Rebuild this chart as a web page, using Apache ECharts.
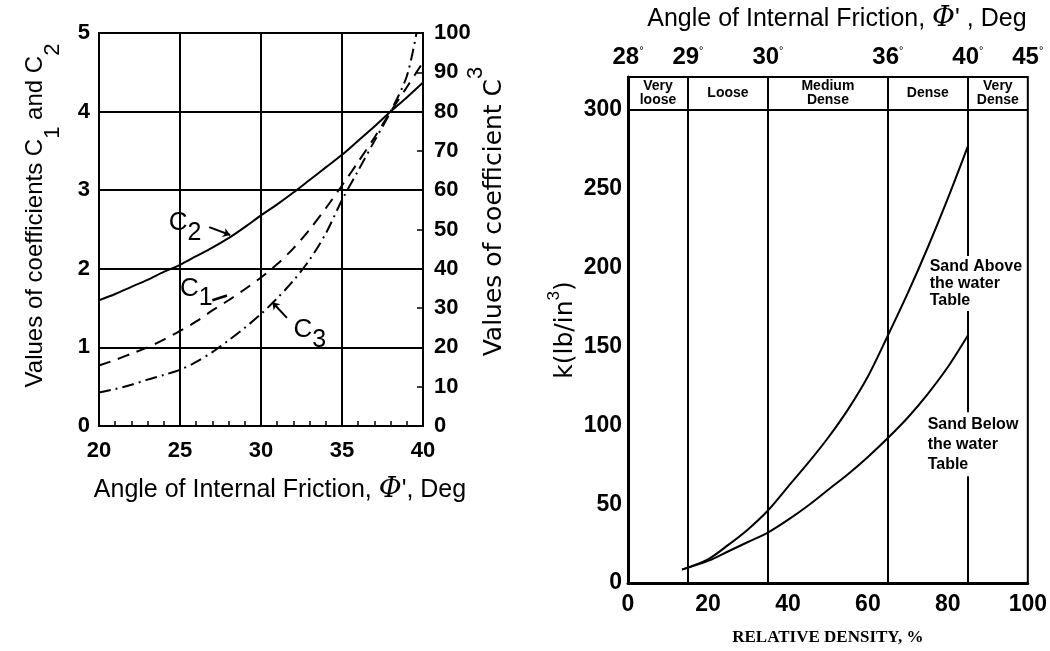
<!DOCTYPE html>
<html>
<head>
<meta charset="utf-8">
<script src="https://cdn.jsdelivr.net/npm/echarts@6/dist/echarts.min.js"></script>
<style>
html,body{margin:0;padding:0;background:#fff;}
#chart{width:1050px;height:651px;}
</style>
</head>
<body>
<div id="chart"></div>
<script>
// ---------- Left chart data: coefficients vs angle of internal friction ----------
const phiC = [20,21,22,23,24,25,26,27,28,29,30,31,32,33,34,35,36,37,38,39,40];
const c2 = [1.60,1.68,1.77,1.86,1.96,2.05,2.16,2.27,2.39,2.53,2.68,2.82,2.97,3.13,3.29,3.45,3.63,3.81,4.00,4.18,4.37];
const c1 = [0.77,0.84,0.92,1.00,1.10,1.21,1.33,1.47,1.60,1.74,1.89,2.06,2.26,2.50,2.77,3.06,3.36,3.67,4.00,4.31,4.63];
const phiC3 = [20,21,22,23,24,25,26,27,28,29,30,31,32,33,34,35,36,37,38,39,39.6];
const c3 = [8.5,9.4,10.5,11.8,13.0,14.3,16.3,18.8,21.8,25.0,28.5,32.5,37.0,42.3,49.0,57.5,65.0,72.5,80.0,89.0,100];

// ---------- Right chart data: modulus of subgrade reaction vs relative density ----------
const relDensity = [13.5,20,25,30,35,40,45,50,55,60,65,70,75,80,85];
const kAbove = [8.5,15,24,34,46,61,76,92,110,131,157,184,213,244,277];
const kBelow = [8.5,14,20,26,32,40,49,59,69,80,92,105,120,137,157];

// density class boundaries (relative density, %) and top-axis angle labels
const classBounds = [15,35,65,85];
const classNames = ['Very\nloose','Loose','Medium\nDense','Dense','Very\nDense'];
const classCenters = [7.5,25,50,75,92.5];
const angleTickPos = [0,15,35,65,85,100];
const angleTickLabels = ['28','29','30','36','40','45'];

const INK = '#000';
const SANS = "'Liberation Sans', Arial, sans-serif";
const zip = (xs, ys) => xs.map((x, i) => [x, ys[i]]);
const phiRich = { phi: { fontFamily: "'DejaVu Serif', serif", fontStyle: 'italic', fontSize: 28, color: INK } };

const chart = echarts.init(document.getElementById('chart'), null, { renderer: 'canvas' });

const option = {
  animation: false,
  backgroundColor: '#fff',
  textStyle: { fontFamily: SANS, color: INK },
  grid: [
    { left: 99, top: 33, width: 324, height: 393, show: true, borderColor: INK, borderWidth: 2, backgroundColor: 'transparent' },
    { left: 628, top: 77, width: 407, height: 509, show: true, borderColor: INK, borderWidth: 2, backgroundColor: 'transparent' }
  ],
  xAxis: [
    {
      gridIndex: 0, type: 'value', min: 20, max: 40, interval: 5,
      axisLine: { lineStyle: { color: INK, width: 2 } },
      axisTick: { show: false, inside: true },
      minorTick: { show: true, splitNumber: 5, length: 5, lineStyle: { color: INK, width: 1.5 } },
      splitLine: { show: true, lineStyle: { color: INK, width: 2 } },
      axisLabel: { fontSize: 22, fontWeight: 'bold', color: INK, margin: 14, fontFamily: SANS },
      name: "Angle of Internal Friction, {phi|Φ}', Deg",
      nameLocation: 'middle', nameGap: 50, nameMoveOverlap: false,
      nameTextStyle: { fontSize: 25, color: INK, fontFamily: SANS, padding: [0, 0, 0, 38], rich: phiRich }
    },
    {
      gridIndex: 1, type: 'value', min: 0, max: 100, interval: 20,
      axisLine: { lineStyle: { color: INK, width: 3 } },
      axisTick: { show: false },
      splitLine: { show: false },
      axisLabel: { fontSize: 23, fontWeight: 'bold', color: INK, margin: 10, fontFamily: SANS },
      name: 'RELATIVE DENSITY, %',
      nameLocation: 'middle', nameGap: 46, nameMoveOverlap: false,
      nameTextStyle: { fontSize: 17, fontWeight: 'bold', color: INK, fontFamily: "'Liberation Serif', 'Times New Roman', serif" }
    },
    {
      gridIndex: 1, type: 'value', position: 'top', min: 0, max: 100, interval: 5,
      axisLine: { show: false },
      axisTick: { show: false },
      splitLine: { show: false },
      axisLabel: {
        showMinLabel: true, showMaxLabel: true, margin: 8,
        formatter: function (v) {
          const i = angleTickPos.indexOf(v);
          return i < 0 ? '' : '{n|' + angleTickLabels[i] + '}{d|°}';
        },
        rich: {
          n: { fontSize: 24, fontWeight: 'bold', color: INK, fontFamily: SANS },
          d: { fontSize: 11, color: INK, fontFamily: SANS, verticalAlign: 'top' }
        }
      },
      name: "Angle of Internal Friction, {phi|Φ}' , Deg",
      nameLocation: 'middle', nameGap: 44, nameMoveOverlap: false,
      nameTextStyle: { fontSize: 25, color: INK, fontFamily: SANS, padding: [0, 0, 0, 18], rich: phiRich }
    }
  ],
  yAxis: [
    {
      gridIndex: 0, type: 'value', min: 0, max: 5, interval: 1,
      axisLine: { show: true, lineStyle: { color: INK, width: 2 } },
      axisTick: { show: false },
      splitLine: { show: true, lineStyle: { color: INK, width: 2 } },
      axisLabel: { fontSize: 22, fontWeight: 'bold', color: INK, margin: 9, fontFamily: SANS },
      name: 'Values of coefficients C{sub|1} and C{sub|2}',
      nameLocation: 'middle', nameGap: 35, nameMoveOverlap: false,
      nameTextStyle: {
        fontSize: 24, color: INK, fontFamily: SANS, padding: [0, 0, 0, 28],
        rich: { sub: { fontSize: 22, color: INK, fontFamily: SANS, verticalAlign: 'bottom', padding: [36, 0, 0, 0] } }
      }
    },
    {
      gridIndex: 0, type: 'value', position: 'right', min: 0, max: 100, interval: 10,
      axisLine: { show: true, lineStyle: { color: INK, width: 2 } },
      axisTick: { show: true, inside: true, length: 6, lineStyle: { color: INK, width: 1.5 } },
      splitLine: { show: false },
      axisLabel: { fontSize: 22, fontWeight: 'bold', color: INK, margin: 11, fontFamily: SANS },
      name: 'Values of coefficient C{sup|3}',
      nameLocation: 'middle', nameGap: 42, nameMoveOverlap: false,
      nameTextStyle: {
        fontSize: 25, color: INK, fontFamily: "'DejaVu Sans', sans-serif", padding: [0, 0, 0, 36],
        rich: { sup: { fontSize: 22, color: INK, fontFamily: SANS, verticalAlign: 'top', padding: [0, 0, 36, 0] } }
      }
    },
    {
      gridIndex: 1, type: 'value', min: 0, max: 321, interval: 50,
      axisLine: { show: true, lineStyle: { color: INK, width: 3 } },
      axisTick: { show: false },
      splitLine: { show: false },
      axisLabel: {
        fontSize: 23, fontWeight: 'bold', color: INK, margin: 6, fontFamily: SANS,
        formatter: function (v) { return v <= 300 ? String(v) : ''; }
      },
      name: 'k(lb/in{sup|3})',
      nameLocation: 'middle', nameGap: 43, nameMoveOverlap: false,
      nameTextStyle: {
        fontSize: 25, color: INK, fontFamily: "'DejaVu Sans', sans-serif",
        rich: { sup: { fontSize: 17, color: INK, fontFamily: SANS, verticalAlign: 'top', padding: [0, 0, 22, 0] } }
      }
    }
  ],
  series: [
    {
      name: 'C2', type: 'line', xAxisIndex: 0, yAxisIndex: 0, smooth: 0.3, showSymbol: false,
      lineStyle: { color: INK, width: 2 },
      data: zip(phiC, c2),
      markLine: {
        silent: true, symbol: ['none', 'arrow'], symbolSize: 7,
        label: { show: false },
        lineStyle: { color: INK, width: 2, type: 'solid' },
        data: [[{ coord: [26.8, 2.53] }, { coord: [28.1, 2.43] }]]
      }
    },
    {
      name: 'C1', type: 'line', xAxisIndex: 0, yAxisIndex: 0, smooth: 0.3, showSymbol: false,
      lineStyle: { color: INK, width: 2, type: [12, 8] },
      data: zip(phiC, c1),
      markLine: {
        silent: true, symbol: ['none', 'none'],
        label: { show: false },
        lineStyle: { color: INK, width: 2.5, type: 'solid', curveness: 0.4 },
        data: [[{ coord: [27.0, 1.6] }, { coord: [27.9, 1.66] }]]
      }
    },
    {
      name: 'C3', type: 'line', xAxisIndex: 0, yAxisIndex: 1, smooth: 0.3, showSymbol: false,
      lineStyle: { color: INK, width: 2, type: [12, 5, 2, 5] },
      data: zip(phiC3, c3),
      markLine: {
        silent: true, symbol: ['arrow', 'none'], symbolSize: 7,
        label: { show: false },
        lineStyle: { color: INK, width: 2, type: 'solid' },
        data: [[{ coord: [30.7, 31.5] }, { coord: [31.6, 27.5] }]]
      }
    },
    {
      name: 'curveLabels', type: 'scatter', xAxisIndex: 0, yAxisIndex: 0, symbolSize: 0, silent: true,
      itemStyle: { opacity: 1 },
      label: {
        show: true, position: 'inside', align: 'left', color: INK, fontSize: 26, fontFamily: SANS,
        formatter: function (p) { return p.value[2]; },
        rich: { s: { fontSize: 25, color: INK, fontFamily: SANS, verticalAlign: 'bottom', padding: [20, 0, 0, 0] } }
      },
      data: [[24.3, 2.58, 'C{s|2}'], [25.0, 1.75, 'C{s|1}'], [32.0, 1.22, 'C{s|3}']]
    },
    {
      name: 'Sand Above the water Table', type: 'line', xAxisIndex: 1, yAxisIndex: 2, smooth: 0.3, showSymbol: false,
      lineStyle: { color: INK, width: 2 },
      data: zip(relDensity, kAbove),
      markLine: {
        silent: true, symbol: ['none', 'none'],
        label: { show: false },
        lineStyle: { color: INK, width: 2, type: 'solid' },
        data: classBounds.map(b => ({ xAxis: b })).concat([{ yAxis: 300 }])
      }
    },
    {
      name: 'Sand Below the water Table', type: 'line', xAxisIndex: 1, yAxisIndex: 2, smooth: 0.3, showSymbol: false,
      lineStyle: { color: INK, width: 2 },
      data: zip(relDensity, kBelow)
    },
    {
      name: 'classLabels', type: 'scatter', xAxisIndex: 1, yAxisIndex: 2, symbolSize: 0, silent: true,
      itemStyle: { opacity: 1 },
      label: {
        show: true, position: 'inside', color: INK, fontSize: 14, fontWeight: 'bold', lineHeight: 14,
        fontFamily: SANS, formatter: function (p) { return p.value[2]; }
      },
      data: classCenters.map((c, i) => [c, 311, classNames[i]])
    },
    {
      name: 'sandLabels', type: 'scatter', xAxisIndex: 1, yAxisIndex: 2, symbolSize: 0, silent: true, z: 5,
      itemStyle: { opacity: 1 },
      label: {
        show: true, position: 'inside', align: 'left', color: INK, fontSize: 16, fontWeight: 'bold',
        lineHeight: 17, fontFamily: SANS, backgroundColor: '#fff', padding: [2, 1, 2, 1],
        formatter: function (p) { return p.value[2]; }
      },
      data: [
        { value: [75.2, 190, 'Sand Above\nthe water\nTable'] },
        { value: [74.7, 88, 'Sand Below\nthe water\nTable'], label: { lineHeight: 20 } }
      ]
    }
  ]
};
chart.setOption(option);
</script>
</body>
</html>
